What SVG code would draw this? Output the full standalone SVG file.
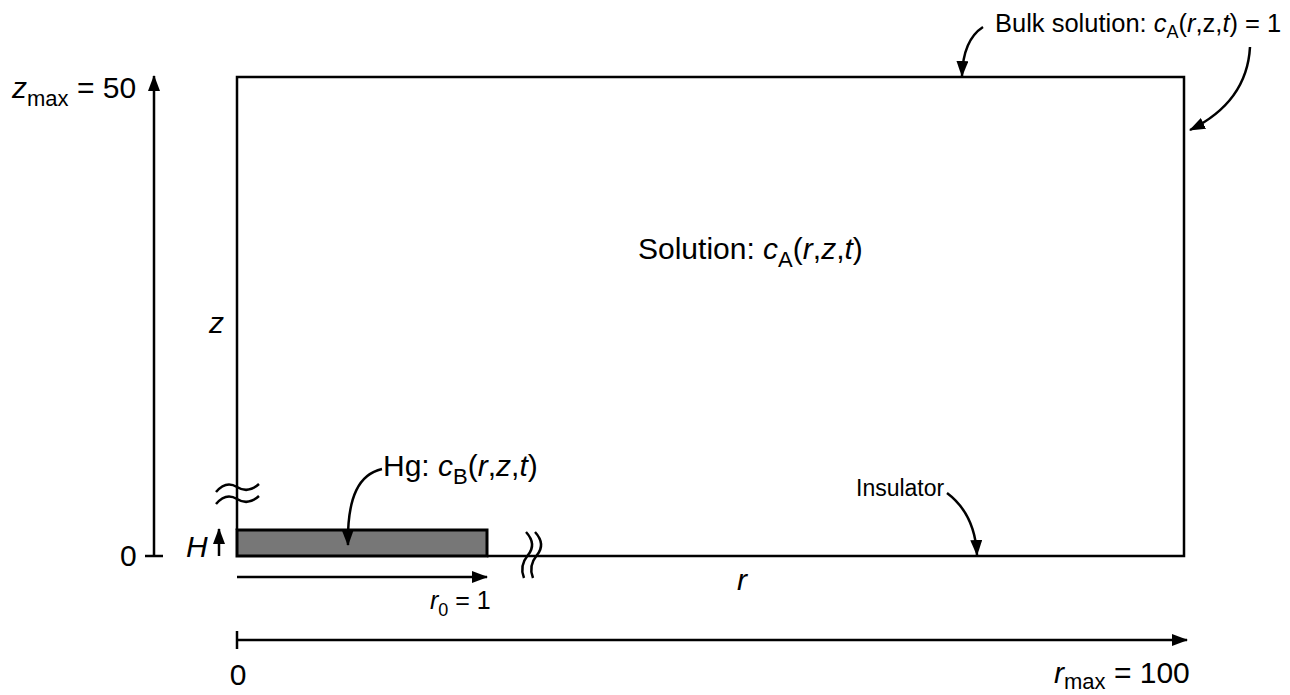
<svg xmlns="http://www.w3.org/2000/svg" width="1290" height="695" viewBox="0 0 1290 695">
<style>
text{font-family:"Liberation Sans",Arial,sans-serif;fill:#000}
.l{font-size:30px}
.s{font-size:25px}
.i{font-style:italic}
.ln{fill:none;stroke:#000;stroke-width:2.5}
.ar{fill:none;stroke:#000;stroke-width:2.5;marker-end:url(#ah)}
</style>
<defs>
<marker id="ah" markerUnits="userSpaceOnUse" markerWidth="16" markerHeight="12" refX="15" refY="6" orient="auto">
<path d="M0,0 L16,6 L0,12 Z" fill="#000"/>
</marker>
</defs>
<rect width="1290" height="695" fill="#fff"/>
<g id="domain">
<path class="ln" d="M237,530 V77 H1184 V556 H487" stroke-width="3"/>
</g>
<g id="hg">
<rect x="237" y="530" width="250" height="26" fill="#777" stroke="#000" stroke-width="3"/>
</g>
<g id="breaks">
<path class="ln" d="M216,492 Q226,480 237,487 T259,484"/>
<path class="ln" d="M216,504 Q226,492 237,499 T259,496"/>
<path class="ln" d="M526,532 Q537,544 528,555 T524,578"/>
<path class="ln" d="M535,532 Q546,544 537,555 T533,578"/>
</g>
<g id="connectors">
<line class="ar" x1="154" y1="556" x2="154" y2="76"/>
<line class="ln" x1="145" y1="556" x2="163" y2="556"/>
<line class="ar" x1="219" y1="556" x2="219" y2="529"/>
<line class="ar" x1="237" y1="577" x2="487" y2="577"/>
<line class="ar" x1="237" y1="640" x2="1187" y2="640"/>
<line class="ln" x1="237" y1="631" x2="237" y2="649"/>
<path class="ar" d="M983,27 Q963,40 962,76"/>
<path class="ar" d="M1250,47 Q1247,102 1190,130"/>
<path class="ar" d="M947,493 Q975,514 977,555"/>
<path class="ar" d="M382,469 C360,474 347,495 348,545"/>
</g>
<g id="labels">
<text class="l" x="12" y="98"><tspan class="i">z</tspan><tspan font-size="22" dy="8">max</tspan><tspan dy="-8"> = 50</tspan></text>
<text class="l" x="120" y="566">0</text>
<text class="l i" x="186" y="557">H</text>
<text class="l i" x="209" y="333">z</text>
<text class="l" x="638" y="259">Solution: <tspan class="i">c</tspan><tspan font-size="22" dy="8">A</tspan><tspan dy="-8">(</tspan><tspan class="i">r</tspan>,<tspan class="i">z</tspan>,<tspan class="i">t</tspan>)</text>
<text class="l" x="383" y="476">Hg: <tspan class="i">c</tspan><tspan font-size="22" dy="8">B</tspan><tspan dy="-8">(</tspan><tspan class="i">r</tspan>,<tspan class="i">z</tspan>,<tspan class="i">t</tspan>)</text>
<text class="s" x="430" y="609"><tspan class="i">r</tspan><tspan font-size="18" dy="7">0</tspan><tspan dy="-7"> = 1</tspan></text>
<text class="l i" x="737" y="590">r</text>
<text x="856" y="496" font-size="23">Insulator</text>
<text x="995" y="32" font-size="25.5">Bulk solution: <tspan class="i">c</tspan><tspan font-size="18" dy="6">A</tspan><tspan dy="-6">(</tspan><tspan class="i">r</tspan>,z,<tspan class="i">t</tspan>) = 1</text>
<text class="l" x="238" y="685" text-anchor="middle">0</text>
<text class="l" x="1054" y="683"><tspan class="i">r</tspan><tspan font-size="22" dy="6">max</tspan><tspan dy="-6"> = 100</tspan></text>
</g>
</svg>
